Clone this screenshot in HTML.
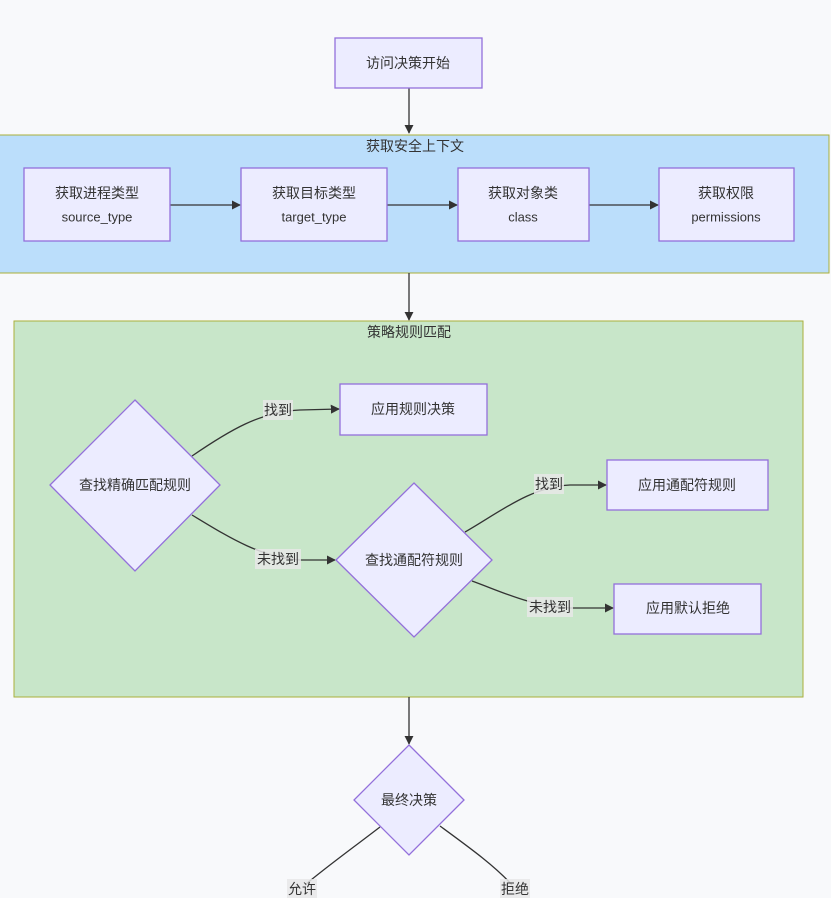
<!DOCTYPE html>
<html><head><meta charset="utf-8"><style>
html,body{margin:0;padding:0;background:#f8f9fb;}
svg{display:block;font-family:"Liberation Sans","Noto Sans CJK SC",sans-serif;}
.n{fill:#ececff;stroke:#9370db;stroke-width:1.3;}
.e{fill:none;stroke:#333;stroke-width:1.3;}
.t{font-size:14px;fill:#333;text-anchor:middle;dominant-baseline:central;}
.lb{fill:#e8e8e8;opacity:0.85;}
</style></head><body>
<svg width="831" height="898" viewBox="0 0 831 898">
<defs><marker id="a" viewBox="0 0 10 10" refX="9" refY="5" markerWidth="7" markerHeight="7" orient="auto"><path d="M0,0L10,5L0,10z" fill="#333"/></marker></defs>
<rect x="0" y="0" width="831" height="898" fill="#f8f9fb"/>
<rect x="-1" y="135" width="830" height="138" fill="#bbdefb" stroke="#aab03a" stroke-width="1"/>
<text class="t" x="415" y="146">获取安全上下文</text>
<rect x="14" y="321" width="789" height="376" fill="#c8e6c9" stroke="#aab03a" stroke-width="1"/>
<text class="t" x="409" y="332">策略规则匹配</text>

<!-- edges -->
<path class="e" d="M409,88V133" marker-end="url(#a)"/>
<path class="e" d="M170,205H240" marker-end="url(#a)"/>
<path class="e" d="M387,205H457" marker-end="url(#a)"/>
<path class="e" d="M589,205H658" marker-end="url(#a)"/>
<path class="e" d="M409,273V320" marker-end="url(#a)"/>
<path class="e" d="M409,697V744" marker-end="url(#a)"/>
<path class="e" d="M192,456C230,430 260,412 300,410 L339,409" marker-end="url(#a)"/>
<path class="e" d="M192,515C230,538 260,557 300,560 L335,560" marker-end="url(#a)"/>
<path class="e" d="M465,532C500,512 530,487 570,485 L606,485" marker-end="url(#a)"/>
<path class="e" d="M472,581C505,593 530,606 570,608 L613,608" marker-end="url(#a)"/>
<path class="e" d="M380,827C350,850 325,868 305,885"/>
<path class="e" d="M440,826C470,848 495,866 512,885"/>

<!-- nodes -->
<rect class="n" x="335" y="38" width="147" height="50"/>
<text class="t" x="408" y="63">访问决策开始</text>
<rect class="n" x="24" y="168" width="146" height="73"/>
<text class="t" x="97" y="193">获取进程类型</text><text class="t" x="97" y="217" style="font-size:13px">source_type</text>
<rect class="n" x="241" y="168" width="146" height="73"/>
<text class="t" x="314" y="193">获取目标类型</text><text class="t" x="314" y="217" style="font-size:13px">target_type</text>
<rect class="n" x="458" y="168" width="131" height="73"/>
<text class="t" x="523" y="193">获取对象类</text><text class="t" x="523" y="217" style="font-size:13px">class</text>
<rect class="n" x="659" y="168" width="135" height="73"/>
<text class="t" x="726" y="193">获取权限</text><text class="t" x="726" y="217" style="font-size:13px">permissions</text>

<rect class="n" x="340" y="384" width="147" height="51"/>
<text class="t" x="413" y="409">应用规则决策</text>
<polygon class="n" points="135,400 220,485 135,571 50,485"/>
<text class="t" x="135" y="485">查找精确匹配规则</text>
<rect class="n" x="607" y="460" width="161" height="50"/>
<text class="t" x="687" y="485">应用通配符规则</text>
<polygon class="n" points="414,483 492,560 414,637 336,560"/>
<text class="t" x="414" y="560">查找通配符规则</text>
<rect class="n" x="614" y="584" width="147" height="50"/>
<text class="t" x="688" y="608">应用默认拒绝</text>
<polygon class="n" points="409,745 464,800 409,855 354,800"/>
<text class="t" x="409" y="800">最终决策</text>

<!-- labels -->
<rect class="lb" x="263" y="400" width="30" height="20"/><text class="t" x="278" y="410">找到</text>
<rect class="lb" x="255" y="549" width="46" height="20"/><text class="t" x="278" y="559">未找到</text>
<rect class="lb" x="534" y="474" width="30" height="20"/><text class="t" x="549" y="484">找到</text>
<rect class="lb" x="527" y="597" width="46" height="20"/><text class="t" x="550" y="607">未找到</text>
<rect class="lb" x="287" y="879" width="30" height="20"/><text class="t" x="302" y="889">允许</text>
<rect class="lb" x="500" y="879" width="30" height="20"/><text class="t" x="515" y="889">拒绝</text>
</svg>
</body></html>
